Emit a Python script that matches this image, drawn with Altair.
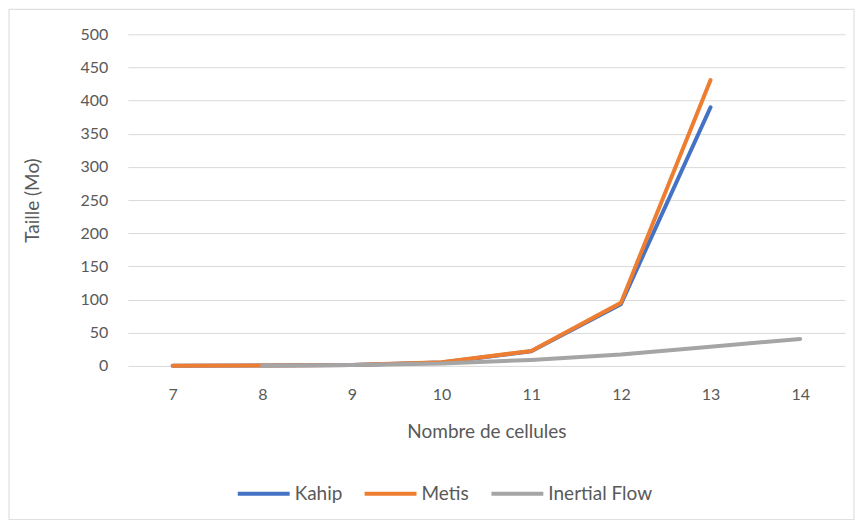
import altair as alt
import pandas as pd

cells_km = [7, 8, 9, 10, 11, 12, 13]
kahip = [0.1, 0.5, 1.5, 5, 22, 93, 390]
metis = [0.1, 0.5, 1.5, 5.5, 22.5, 95, 431]
cells_if = [8, 9, 10, 11, 12, 13, 14]
inertial = [0.3, 1.2, 3.5, 9, 17, 29, 40.7]

series = ["Kahip", "Metis", "Inertial Flow"]
colors = ["#4472C4", "#ED7D31", "#A5A5A5"]
x_labels = [7, 8, 9, 10, 11, 12, 13, 14]

rows = []
for c, v in zip(cells_km, kahip):
    rows.append({"cells": c, "val": v, "serie": "Kahip", "o": 0})
for c, v in zip(cells_km, metis):
    rows.append({"cells": c, "val": v, "serie": "Metis", "o": 1})
for c, v in zip(cells_if, inertial):
    rows.append({"cells": c, "val": v, "serie": "Inertial Flow", "o": 2})
df = pd.DataFrame(rows)

FONT = "Lato"
GREY = "#595959"

lines = alt.Chart(df).mark_line(strokeWidth=4, strokeCap="round", strokeJoin="round").encode(
    x=alt.X("cells:O", scale=alt.Scale(domain=x_labels, paddingOuter=0.5),
            axis=alt.Axis(title="Nombre de cellules", labelAngle=0, ticks=False, domain=False,
                          grid=False, labelPadding=21, titlePadding=20)),
    y=alt.Y("val:Q", scale=alt.Scale(domain=[0, 500], nice=False),
            axis=alt.Axis(title="Taille (Mo)", values=list(range(0, 501, 50)), ticks=False,
                          domain=False, gridColor="#D9D9D9", gridWidth=1, labelPadding=20,
                          titlePadding=38)),
    color=alt.Color("serie:N", scale=alt.Scale(domain=series, range=colors),
                    legend=alt.Legend(title=None, orient="none", direction="horizontal",
                                      legendX=108, legendY=432, symbolType="stroke",
                                      symbolStrokeWidth=4, symbolSize=2700,
                                      labelFontSize=19, labelColor=GREY, labelFont=FONT,
                                      columnPadding=14, labelOffset=3)),
    detail="serie:N",
    order="o:Q",
)

border = alt.Chart(pd.DataFrame({"a": [0]})).mark_rect(
    fill=None, stroke="#D9D9D9", strokeWidth=1
).encode(x=alt.value(-119), x2=alt.value(727), y=alt.value(-25), y2=alt.value(486))

chart = alt.layer(border, lines).properties(
    width=718, height=332,
    autosize=alt.AutoSizeParams(type="none"),
    padding={"left": 120, "top": 26, "right": 10, "bottom": 154},
    background="white",
).configure_view(stroke=None).configure_axis(
    labelFont=FONT, titleFont=FONT, labelColor=GREY, titleColor=GREY,
    labelFontSize=16, titleFontSize=19, titleFontWeight="normal"
).configure_legend(
    labelFont=FONT, labelFontSize=19, labelColor=GREY
)

chart.save("out.html", embed_options={"renderer": "svg", "actions": False})
